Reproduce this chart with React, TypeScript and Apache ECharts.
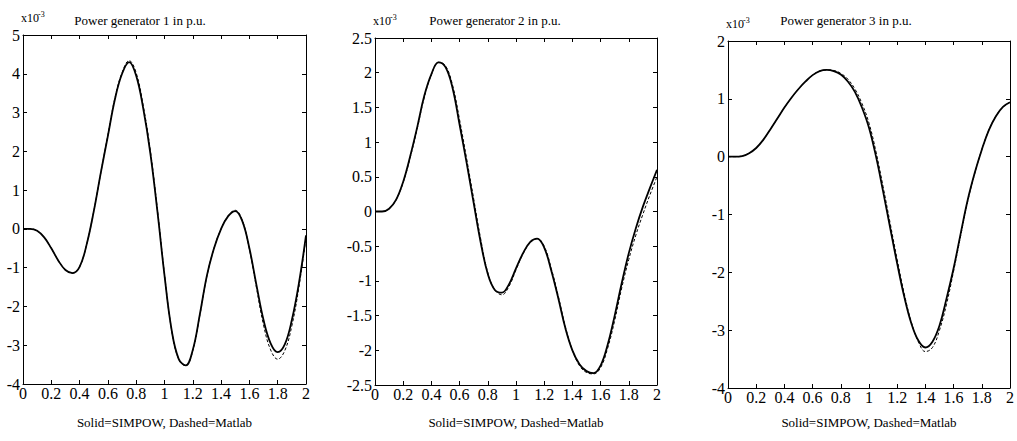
import React, { useEffect, useRef } from "react";
import * as echarts from "echarts";

// time axis (s)
const TIME = [
  0, 0.05, 0.1, 0.15, 0.2, 0.25, 0.3, 0.35, 0.4, 0.45, 0.5, 0.55, 0.6, 0.65, 0.7, 0.75, 0.8, 0.85, 0.9, 0.95,
  1.0, 1.05, 1.1, 1.15, 1.2, 1.25, 1.3, 1.35, 1.4, 1.45, 1.5, 1.55, 1.6, 1.65, 1.7, 1.75, 1.8, 1.85, 1.9, 1.95, 2.0,
];

// values in units of 1e-3 p.u.
const P1_SIMPOW = [
  0, 0, -0.05, -0.22, -0.5, -0.82, -1.06, -1.14, -0.98, -0.4, 0.45, 1.45, 2.4, 3.35, 4.0, 4.3, 3.95, 3.1, 1.95, 0.45,
  -1.2, -2.6, -3.35, -3.52, -3.12, -2.2, -1.2, -0.5, 0.0, 0.33, 0.46, 0.2, -0.5, -1.45, -2.35, -2.95, -3.18, -2.98, -2.35, -1.4, -0.17,
];
const P1_MATLAB = [
  0, 0, -0.05, -0.22, -0.5, -0.82, -1.06, -1.14, -0.98, -0.4, 0.45, 1.45, 2.42, 3.38, 4.03, 4.34, 4.02, 3.17, 2.02, 0.5,
  -1.17, -2.6, -3.36, -3.53, -3.14, -2.22, -1.21, -0.5, 0.0, 0.34, 0.48, 0.22, -0.52, -1.52, -2.48, -3.12, -3.36, -3.14, -2.5, -1.5, -0.22,
];

const P2_SIMPOW = [
  0, 0, 0.04, 0.17, 0.43, 0.8, 1.22, 1.67, 1.98, 2.15, 2.08, 1.78, 1.25, 0.7, 0.12, -0.45, -0.9, -1.13, -1.17, -1.05,
  -0.82, -0.6, -0.44, -0.39, -0.52, -0.85, -1.25, -1.68, -2.0, -2.2, -2.3, -2.33, -2.22, -1.92, -1.5, -1.03, -0.6, -0.24, 0.07, 0.34, 0.6,
];
const P2_MATLAB = [
  0, 0, 0.04, 0.17, 0.42, 0.78, 1.2, 1.65, 1.97, 2.15, 2.1, 1.82, 1.32, 0.76, 0.18, -0.4, -0.88, -1.13, -1.2, -1.08,
  -0.84, -0.61, -0.45, -0.39, -0.5, -0.82, -1.22, -1.66, -2.0, -2.22, -2.32, -2.34, -2.25, -1.97, -1.57, -1.1, -0.69, -0.34, -0.04, 0.24, 0.5,
];

const P3_SIMPOW = [
  0, 0, 0.01, 0.06, 0.15, 0.29, 0.47, 0.66, 0.85, 1.02, 1.17, 1.3, 1.41, 1.48, 1.5, 1.48, 1.42, 1.3, 1.12, 0.85,
  0.5, 0.0, -0.6, -1.23, -1.85, -2.42, -2.88, -3.18, -3.3, -3.2, -2.92, -2.45, -1.93, -1.33, -0.75, -0.28, 0.12, 0.46, 0.7, 0.86, 0.94,
];
const P3_MATLAB = [
  0, 0, 0.01, 0.06, 0.15, 0.29, 0.47, 0.66, 0.85, 1.02, 1.17, 1.3, 1.41, 1.48, 1.5, 1.49, 1.44, 1.34, 1.17, 0.92,
  0.58, 0.08, -0.52, -1.15, -1.78, -2.37, -2.86, -3.2, -3.37, -3.3, -3.0, -2.55, -1.98, -1.37, -0.77, -0.29, 0.12, 0.46, 0.7, 0.86, 0.94,
];

const TITLES = ["Power generator 1 in p.u.", "Power generator 2 in p.u.", "Power generator 3 in p.u."];
const X_LABEL = "Solid=SIMPOW, Dashed=Matlab";
const EXP_BASE = "x10";
const EXP_POWER = "-3";

const Y_RANGES = [
  { min: -4, max: 5, step: 1 },
  { min: -2.5, max: 2.5, step: 0.5 },
  { min: -4, max: 2, step: 1 },
];
const X_RANGE = { min: 0, max: 2, step: 0.2 };

const SOLID = [P1_SIMPOW, P2_SIMPOW, P3_SIMPOW];
const DASHED = [P1_MATLAB, P2_MATLAB, P3_MATLAB];

const GRIDS = [
  { left: 23, top: 35, width: 283, height: 349 },
  { left: 375, top: 38, width: 282, height: 347 },
  { left: 728, top: 41, width: 282, height: 347 },
];
const TITLE_X = [140, 495, 846];

const FONT = '"Liberation Serif", "Times New Roman", serif';

function pairs(xs: number[], ys: number[]) {
  return xs.map((x, i) => [x, ys[i]]);
}

function fmt(v: number) {
  return String(Number(v.toFixed(2)));
}

export default function App() {
  const ref = useRef<HTMLDivElement>(null);

  useEffect(() => {
    document.body.style.margin = "0";
    const chart = echarts.init(ref.current!, null, { renderer: "svg" });

    const axisLine = { show: true, onZero: false, lineStyle: { color: "#000", width: 1 } };
    const axisTick = { show: true, inside: true, length: 4, lineStyle: { color: "#000", width: 1 } };

    const xAxis: any[] = [];
    const yAxis: any[] = [];
    const series: any[] = [];
    const graphic: any[] = [];

    GRIDS.forEach((g, i) => {
      const yr = Y_RANGES[i];
      xAxis.push({
        type: "value", gridIndex: i, position: "bottom",
        min: X_RANGE.min, max: X_RANGE.max, interval: X_RANGE.step,
        axisLine, axisTick, splitLine: { show: false },
        axisLabel: { show: true, color: "#000", fontFamily: FONT, fontSize: 16, margin: 1, formatter: fmt, showMinLabel: true, showMaxLabel: true },
      });
      xAxis.push({
        type: "value", gridIndex: i, position: "top",
        min: X_RANGE.min, max: X_RANGE.max, interval: X_RANGE.step,
        axisLine, axisTick, splitLine: { show: false }, axisLabel: { show: false },
      });
      yAxis.push({
        type: "value", gridIndex: i, position: "left",
        min: yr.min, max: yr.max, interval: yr.step,
        axisLine, axisTick, splitLine: { show: false },
        axisLabel: { show: true, color: "#000", fontFamily: FONT, fontSize: 16, margin: 3, formatter: fmt, showMinLabel: true, showMaxLabel: true },
      });
      yAxis.push({
        type: "value", gridIndex: i, position: "right",
        min: yr.min, max: yr.max, interval: yr.step,
        axisLine, axisTick, splitLine: { show: false }, axisLabel: { show: false },
      });

      series.push({
        name: "Matlab " + (i + 1), type: "line", xAxisIndex: 2 * i, yAxisIndex: 2 * i,
        data: pairs(TIME, DASHED[i]), smooth: 0.4, showSymbol: false, symbol: "none",
        lineStyle: { color: "#000", width: 1, type: [3, 2] },
      });
      series.push({
        name: "SIMPOW " + (i + 1), type: "line", xAxisIndex: 2 * i, yAxisIndex: 2 * i,
        data: pairs(TIME, SOLID[i]), smooth: 0.4, showSymbol: false, symbol: "none",
        lineStyle: { color: "#000", width: 1.8 },
      });

      graphic.push({
        type: "text", x: TITLE_X[i], y: 20,
        style: { text: TITLES[i], font: `13px ${FONT}`, fill: "#000", align: "center", verticalAlign: "middle" },
      });
      graphic.push({
        type: "text", x: g.left + g.width / 2, y: 422,
        style: { text: X_LABEL, font: `13px ${FONT}`, fill: "#000", align: "center", verticalAlign: "middle" },
      });
      graphic.push({
        type: "text", x: g.left - 2, y: g.top - 17,
        style: { text: EXP_BASE, font: `12px ${FONT}`, fill: "#000", align: "left", verticalAlign: "middle" },
      });
      graphic.push({
        type: "text", x: g.left + 15, y: g.top - 21,
        style: { text: EXP_POWER, font: `8px ${FONT}`, fill: "#000", align: "left", verticalAlign: "middle" },
      });
    });

    chart.setOption({
      animation: false,
      backgroundColor: "#fff",
      grid: GRIDS.map((g) => ({ ...g, containLabel: false })),
      xAxis,
      yAxis,
      series,
      graphic,
    });

    return () => chart.dispose();
  }, []);

  return <div ref={ref} style={{ width: 1017, height: 441 }} />;
}
